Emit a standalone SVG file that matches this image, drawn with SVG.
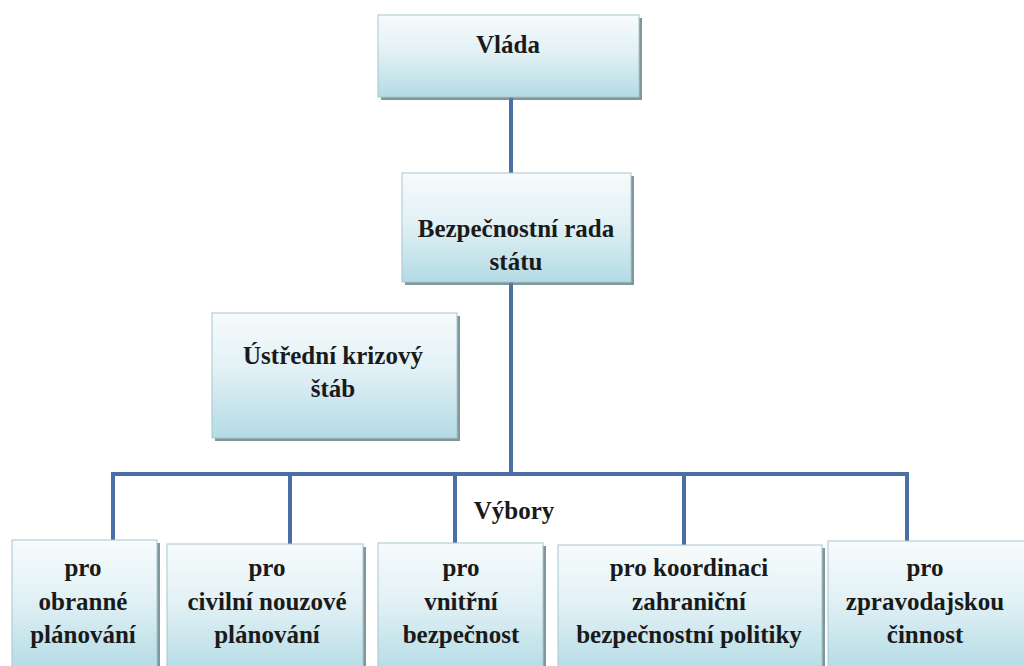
<svg xmlns="http://www.w3.org/2000/svg" width="1024" height="666" viewBox="0 0 1024 666">
<style>
.box{fill:url(#g);stroke:#a8c6cf;stroke-width:1}
.sh{fill:#5f7e82;opacity:0.8}
.t{font-family:Tinos,"Liberation Serif","Times New Roman","DejaVu Serif",serif;font-weight:bold;font-size:25px;fill:#1a1a1a;text-anchor:middle}
.c{stroke:#4a6fa5;stroke-width:4;fill:none}
</style>
<defs>
<linearGradient id="g" x1="0" y1="0" x2="0" y2="1">
<stop offset="0" stop-color="#f7fbfc"/>
<stop offset="0.45" stop-color="#e2f1f5"/>
<stop offset="1" stop-color="#b3dbe5"/>
</linearGradient>
</defs>
<rect width="1024" height="666" fill="#ffffff"/>
<g id="connectors">
<path class="c" d="M511 97V173M511 282V474M113 474H907M113 472V540M290 472V544M455 472V543M684 472V545M907 472V541"/>
</g>
<g id="vlada">
<rect class="sh" x="381" y="18" width="261" height="82"/>
<rect class="box" x="378" y="15" width="261" height="82"/>
<text class="t" x="508" y="53">Vláda</text>
</g>
<g id="brs">
<rect class="sh" x="405" y="176" width="229" height="109"/>
<rect class="box" x="402" y="173" width="229" height="109"/>
<text class="t" x="516" y="237">Bezpečnostní rada</text>
<text class="t" x="516" y="270">státu</text>
</g>
<g id="uks">
<rect class="sh" x="215" y="316" width="245" height="125"/>
<rect class="box" x="212" y="313" width="245" height="125"/>
<text class="t" x="333" y="364">Ústřední krizový</text>
<text class="t" x="333" y="397">štáb</text>
</g>
<g id="vybory-label">
<text class="t" x="514" y="519">Výbory</text>
</g>
<g id="v1">
<rect class="sh" x="15" y="543" width="145" height="130"/>
<rect class="box" x="12" y="540" width="145" height="130"/>
<text class="t" x="83" y="576">pro</text>
<text class="t" x="83" y="610">obranné</text>
<text class="t" x="83" y="643">plánování</text>
</g>
<g id="v2">
<rect class="sh" x="170" y="547" width="196" height="130"/>
<rect class="box" x="167" y="544" width="196" height="130"/>
<text class="t" x="267" y="576">pro</text>
<text class="t" x="267" y="610">civilní nouzové</text>
<text class="t" x="267" y="643">plánování</text>
</g>
<g id="v3">
<rect class="sh" x="381" y="546" width="165" height="130"/>
<rect class="box" x="378" y="543" width="165" height="130"/>
<text class="t" x="461" y="576">pro</text>
<text class="t" x="461" y="610">vnitřní</text>
<text class="t" x="461" y="643">bezpečnost</text>
</g>
<g id="v4">
<rect class="sh" x="561" y="548" width="264" height="130"/>
<rect class="box" x="558" y="545" width="264" height="130"/>
<text class="t" x="689" y="576">pro koordinaci</text>
<text class="t" x="689" y="610">zahraniční</text>
<text class="t" x="689" y="643">bezpečnostní politiky</text>
</g>
<g id="v5">
<rect class="sh" x="831" y="544" width="200" height="130"/>
<rect class="box" x="828" y="541" width="200" height="130"/>
<text class="t" x="925" y="576">pro</text>
<text class="t" x="925" y="610">zpravodajskou</text>
<text class="t" x="925" y="643">činnost</text>
</g>
</svg>
